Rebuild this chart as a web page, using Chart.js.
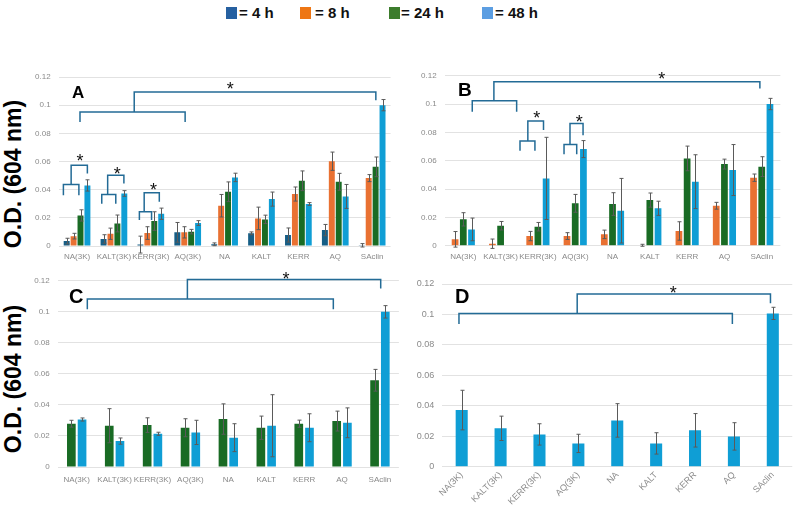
<!DOCTYPE html>
<html><head><meta charset="utf-8">
<script src="https://cdn.jsdelivr.net/npm/chart.js@4"></script>
<style>
body{margin:0;background:#fff;width:794px;height:512px;overflow:hidden;position:relative;font-family:"Liberation Sans",Arial,sans-serif;}
canvas{position:absolute;}
.lg{position:absolute;font-weight:bold;font-size:15px;line-height:15px;top:5px;color:#111;white-space:nowrap;}
.sq{position:absolute;width:11px;height:12px;top:7px;}
.ttl{position:absolute;font-weight:bold;font-size:23px;line-height:23px;white-space:nowrap;color:#000;transform:translate(-50%,-50%) rotate(-90deg);}
.let{position:absolute;font-weight:bold;color:#000;}
</style></head><body>

<div class="sq" style="left:226px;background:#2660A0"></div><div class="lg" style="left:239px">= 4 h</div>
<div class="sq" style="left:300px;background:#EE7614"></div><div class="lg" style="left:315px">= 8 h</div>
<div class="sq" style="left:389px;background:#3C7C2C"></div><div class="lg" style="left:401px">= 24 h</div>
<div class="sq" style="left:482px;background:#5C9EE2"></div><div class="lg" style="left:495px">= 48 h</div>

<div class="ttl" style="left:13px;top:174px">O.D. (604 nm)</div>
<div class="ttl" style="left:13px;top:379px">O.D. (604 nm)</div>

<canvas id="cA" width="400" height="210" style="left:0;top:60px"></canvas>
<canvas id="cB" width="394" height="215" style="left:400px;top:55px"></canvas>
<canvas id="cC" width="400" height="232" style="left:0;top:268px"></canvas>
<canvas id="cD" width="394" height="244" style="left:400px;top:268px"></canvas>

<div class="let" style="left:72px;top:84px;font-size:17px;line-height:17px">A</div>
<div class="let" style="left:458px;top:80px;font-size:19px;line-height:19px">B</div>
<div class="let" style="left:69px;top:286px;font-size:20px;line-height:20px">C</div>
<div class="let" style="left:455px;top:286px;font-size:20px;line-height:20px">D</div>

<script>
// ---------- data ----------
const categories = ['NA(3K)','KALT(3K)','KERR(3K)','AQ(3K)','NA','KALT','KERR','AQ','SAclin'];
const seriesNames = ['4 h','8 h','24 h','48 h'];
const yMax = 0.12, yStep = 0.02;

// Panel A
const A4   = [0.0035, 0.005, 0.001, 0.0097, 0.0012, 0.009, 0.0078, 0.0113, 0.0005];
const A4e  = [0.002, 0.003, 0.006, 0.007, 0.001, 0.001, 0.005, 0.004, 0.0012];
const A8   = [0.007, 0.0087, 0.0092, 0.0097, 0.0286, 0.0196, 0.0369, 0.0602, 0.0482];
const A8e  = [0.002, 0.004, 0.0045, 0.004, 0.008, 0.008, 0.005, 0.0065, 0.0025];
const A24  = [0.0217, 0.016, 0.0177, 0.0102, 0.0385, 0.0189, 0.0463, 0.0456, 0.0562];
const A24e = [0.004, 0.006, 0.0066, 0.0016, 0.007, 0.003, 0.007, 0.006, 0.007];
const A48  = [0.043, 0.0373, 0.0229, 0.0163, 0.0487, 0.0333, 0.0298, 0.0352, 0.1];
const A48e = [0.004, 0.002, 0.004, 0.0017, 0.003, 0.005, 0.001, 0.0085, 0.004];

// Panel B
const B8   = [0.0045, 0.0014, 0.0068, 0.0068, 0.008, 0.0003, 0.0104, 0.0282, 0.048];
const B8e  = [0.0055, 0.0033, 0.0033, 0.0024, 0.003, 0.0007, 0.0065, 0.0024, 0.0026];
const B24  = [0.0186, 0.0141, 0.0134, 0.0299, 0.0294, 0.0322, 0.0616, 0.0576, 0.0558];
const B24e = [0.0047, 0.003, 0.003, 0.0063, 0.008, 0.005, 0.0087, 0.0035, 0.007];
const B48  = [0.0115, null, 0.0475, 0.0682, 0.0247, 0.0264, 0.0452, 0.0534, 0.1];
const B48e = [0.008, null, 0.029, 0.006, 0.0228, 0.005, 0.019, 0.018, 0.004];

// Panel C
const C24  = [0.0279, 0.0266, 0.027, 0.0253, 0.0309, 0.0253, 0.0279, 0.0296, 0.0559];
const C24e = [0.0022, 0.011, 0.0047, 0.0058, 0.0098, 0.0075, 0.0023, 0.0064, 0.007];
const C48  = [0.0306, 0.0167, 0.0214, 0.0223, 0.0189, 0.0266, 0.0253, 0.0285, 0.1];
const C48e = [0.001, 0.002, 0.001, 0.0078, 0.009, 0.02, 0.009, 0.0096, 0.004];

// Panel D
const D48  = [0.0372, 0.0252, 0.0212, 0.0153, 0.0304, 0.0153, 0.0239, 0.0199, 0.1007];
const D48e = [0.013, 0.008, 0.007, 0.006, 0.011, 0.007, 0.011, 0.009, 0.004];

// significance brackets: [fromCategory, toCategory, barLevel, leftLegEnd, rightLegEnd]
const bracketsA = [[0.08,2.93,0.0952,0.088,0.088],[1.55,8.1,0.1094,0.0952,0.1035],
  [-0.37,0.05,0.0437,0.036,0.036],[-0.16,0.28,0.0574,0.0437,0.0515],
  [0.67,1.05,0.0366,0.030,0.030],[0.83,1.27,0.0503,0.0366,0.0444],
  [1.69,2.02,0.0243,0.0184,0.0184],[1.82,2.23,0.0378,0.0243,0.0314]];
const starsA = [[4.15,0.1145],[0.08,0.0635],[1.09,0.054],[2.07,0.0428]];
const bracketsB = [[0.24,1.43,0.1024,0.0946,0.0946],[0.82,7.95,0.1158,0.1024,0.111],
  [1.52,1.92,0.0739,0.067,0.067],[1.73,2.15,0.088,0.0739,0.0816],
  [2.70,3.04,0.0715,0.0645,0.0645],[2.86,3.21,0.0863,0.0715,0.078]];
const starsB = [[5.32,0.1205],[1.97,0.0934],[3.11,0.0906]];
const bracketsC = [[0.28,6.77,0.1082,0.1016,0.1016],[2.92,8.02,0.1208,0.1082,0.115]];
const starsC = [[5.52,0.1238]];
const bracketsD = [[-0.07,6.96,0.1007,0.0937,0.0937],[2.97,7.94,0.1134,0.1007,0.1073]];
const starsD = [[5.44,0.1167]];

// ---------- styles ----------
const COL = {h4:'#165E86', h8:'#E97132', h24:'#196B24', h48:'#0F9ED5'};
const BR_COLOR = '#236B96';
const TICK_COLOR = '#8a8a8a';
const GRID_COLOR = '#e2e2e2';
Chart.defaults.font.family = '"Liberation Sans", Arial, sans-serif';

const annot = {
  id: 'annot',
  afterDatasetsDraw(chart, args, opts) {
    const ctx = chart.ctx, xs = chart.scales.x, ys = chart.scales.y;
    ctx.save();
    ctx.strokeStyle = '#5a5a5a'; ctx.lineWidth = 1;
    (opts.errors || []).forEach((errs, d) => {
      const meta = chart.getDatasetMeta(d);
      const vals = chart.data.datasets[d].data;
      meta.data.forEach((el, i) => {
        const v = vals[i], e = errs[i];
        if (v == null || e == null) return;
        const x = Math.round(el.x) + 0.5;
        const t = ys.getPixelForValue(v + e), b = ys.getPixelForValue(v - e);
        ctx.beginPath();
        ctx.moveTo(x, t); ctx.lineTo(x, b);
        ctx.moveTo(x - 2, t); ctx.lineTo(x + 2, t);
        ctx.moveTo(x - 2, b); ctx.lineTo(x + 2, b);
        ctx.stroke();
      });
    });
    ctx.strokeStyle = BR_COLOR; ctx.lineWidth = 1.5; ctx.lineJoin = 'miter';
    (opts.brackets || []).forEach(([x1, x2, y, l1, l2]) => {
      const p1 = xs.getPixelForValue(x1), p2 = xs.getPixelForValue(x2), py = ys.getPixelForValue(y);
      ctx.beginPath();
      ctx.moveTo(p1, ys.getPixelForValue(l1)); ctx.lineTo(p1, py);
      ctx.lineTo(p2, py); ctx.lineTo(p2, ys.getPixelForValue(l2));
      ctx.stroke();
    });
    const fs = opts.starSize || 18;
    ctx.fillStyle = '#111'; ctx.font = fs + 'px "Liberation Sans", Arial';
    ctx.textAlign = 'center'; ctx.textBaseline = 'alphabetic';
    (opts.stars || []).forEach(([sx, sy]) => {
      ctx.fillText('*', xs.getPixelForValue(sx), ys.getPixelForValue(sy) + 0.57 * fs);
    });
    ctx.restore();
  }
};

function makeChart(id, datasets, cat, bar, g, ann, xt) {
  new Chart(document.getElementById(id), {
    type: 'bar',
    data: { labels: categories, datasets: datasets.map(d => ({
      label: d.label, data: d.data, backgroundColor: d.color, borderWidth: 0,
      categoryPercentage: cat, barPercentage: bar })) },
    options: {
      responsive: false, animation: false, devicePixelRatio: 1,
      layout: { padding: { top: g.pt, right: g.pr, left: 0, bottom: 0 } },
      plugins: { legend: { display: false }, tooltip: { enabled: false }, annot: ann },
      scales: {
        x: {
          grid: { display: false, drawTicks: false }, border: { display: false },
          ticks: Object.assign({ color: TICK_COLOR, font: { size: 8 }, autoSkip: false,
            maxRotation: 0, minRotation: 0, padding: 6 }, xt || {}),
          afterFit: s => { s.height = g.xh; }
        },
        y: {
          min: 0, max: yMax,
          grid: { color: GRID_COLOR, drawTicks: false }, border: { display: false },
          ticks: { stepSize: yStep, color: TICK_COLOR, font: { size: g.yf || 8 }, padding: 8,
            callback: v => String(+v.toFixed(2)) },
          afterFit: s => { s.width = g.yw; }
        }
      }
    },
    plugins: [annot]
  });
}

makeChart('cA', [
  {label: seriesNames[0], data: A4, color: COL.h4},
  {label: seriesNames[1], data: A8, color: COL.h8},
  {label: seriesNames[2], data: A24, color: COL.h24},
  {label: seriesNames[3], data: A48, color: COL.h48}],
  0.75, 0.86, {pt: 17, pr: 9.4, yw: 58.6, xh: 24},
  {errors: [A4e, A8e, A24e, A48e], brackets: bracketsA, stars: starsA});

makeChart('cB', [
  {label: seriesNames[1], data: B8, color: COL.h8},
  {label: seriesNames[2], data: B24, color: COL.h24},
  {label: seriesNames[3], data: B48, color: COL.h48}],
  0.66, 0.82, {pt: 20.7, pr: 13.6, yw: 44.65, xh: 24.3},
  {errors: [B8e, B24e, B48e], brackets: bracketsB, stars: starsB});

makeChart('cC', [
  {label: seriesNames[2], data: C24, color: COL.h24},
  {label: seriesNames[3], data: C48, color: COL.h48}],
  0.565, 0.81, {pt: 12.7, pr: 1.1, yw: 57.75, xh: 33},
  {errors: [C24e, C48e], brackets: bracketsC, stars: starsC}, {padding: 8});

makeChart('cD', [
  {label: seriesNames[3], data: D48, color: COL.h48}],
  0.31, 1.0, {pt: 16, pr: 1.75, yw: 42.25, xh: 45.3, yf: 9},
  {errors: [D48e], brackets: bracketsD, stars: starsD},
  {maxRotation: 45, minRotation: 45, padding: 3, font: {size: 9}});
</script>
</body></html>
